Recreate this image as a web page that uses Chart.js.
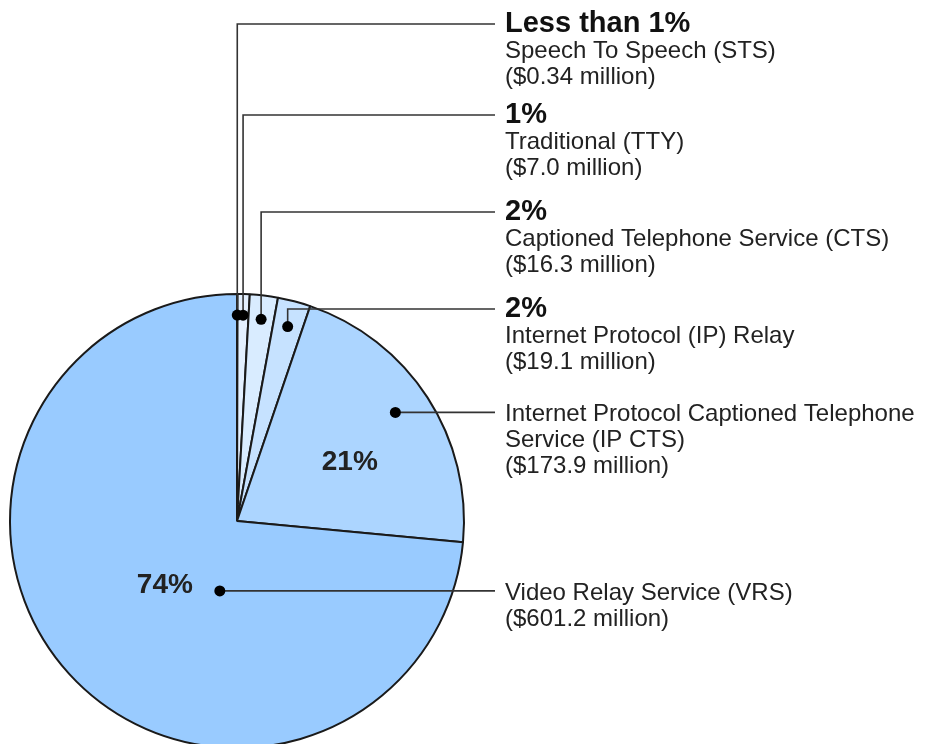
<!DOCTYPE html>
<html>
<head>
<meta charset="utf-8">
<script src="https://cdn.jsdelivr.net/npm/chart.js@4.4.1/dist/chart.umd.min.js"></script>
<style>
  html, body { margin: 0; padding: 0; background: #fff; overflow: hidden; }
  canvas { display: block; }
</style>
</head>
<body>
<canvas id="chart" width="934" height="760"></canvas>
<script>
// data (millions of dollars)
const categories = [
  ["Speech To Speech (STS)"],
  ["Traditional (TTY)"],
  ["Captioned Telephone Service (CTS)"],
  ["Internet Protocol (IP) Relay"],
  ["Internet Protocol Captioned Telephone", "Service (IP CTS)"],
  ["Video Relay Service (VRS)"]
];
const amounts = [0.34, 7.0, 16.3, 19.1, 173.9, 601.2];
const amountLabels = ["($0.34 million)", "($7.0 million)", "($16.3 million)",
  "($19.1 million)", "($173.9 million)", "($601.2 million)"];
const shareLabels = ["Less than 1%", "1%", "2%", "2%", "21%", "74%"];

const sliceColors = ['#e3f0ff', '#e3f0ff', '#d9ecff', '#c6e2ff', '#acd5ff', '#99cbff'];

const FONT = "'Liberation Sans', Arial, sans-serif";
const TEXT_X = 505;
const LINE_END = 495;

// where dots sit inside each slice: fraction along the arc, fraction of radius
const dotPlace = [[0.5, 0.907], [0.5, 0.907], [0.5, 0.895], [0.5, 0.885], [0.48, 0.846], [0.372, 0.317]];
// small slices: leader goes up then right; the big two go straight right
const labelLineY = [24, 115, 212, 309, null, null];
// inside percent labels for the two big slices
const innerPlace = {4: [0.571, 0.56], 5: [0.5015, 0.427]};

function arcPoint(arc, frac, rf) {
  const a = arc.startAngle + (arc.endAngle - arc.startAngle) * frac;
  const r = arc.outerRadius * rf;
  return { x: arc.x + r * Math.cos(a), y: arc.y + r * Math.sin(a) };
}

const leaderPlugin = {
  id: 'leaders',
  afterDatasetsDraw(chart) {
    const ctx = chart.ctx;
    const arcs = chart.getDatasetMeta(0).data;
    ctx.save();
    arcs.forEach((arc, i) => {
      const p = arcPoint(arc, dotPlace[i][0], dotPlace[i][1]);
      const ly = labelLineY[i] !== null ? labelLineY[i] : p.y;

      ctx.strokeStyle = '#333';
      ctx.lineWidth = 1.6;
      ctx.beginPath();
      ctx.moveTo(p.x, p.y);
      if (labelLineY[i] !== null) ctx.lineTo(p.x, ly);
      ctx.lineTo(LINE_END, ly);
      ctx.stroke();

      ctx.fillStyle = '#000';
      ctx.beginPath();
      ctx.arc(p.x, p.y, 5.5, 0, Math.PI * 2);
      ctx.fill();

      // text block
      ctx.textAlign = 'left';
      ctx.textBaseline = 'alphabetic';
      const lines = categories[i].concat([amountLabels[i]]);
      let base;
      if (labelLineY[i] !== null) {
        ctx.fillStyle = '#111';
        ctx.font = 'bold 29px ' + FONT;
        ctx.fillText(shareLabels[i], TEXT_X, ly + 8);
        base = ly + 8 + 25.5;
      } else {
        base = ly + 9;
      }
      ctx.fillStyle = '#222';
      ctx.font = '24px ' + FONT;
      lines.forEach((t, k) => ctx.fillText(t, TEXT_X, base + k * 26));

      // percent inside big slices
      if (innerPlace[i]) {
        const q = arcPoint(arc, innerPlace[i][0], innerPlace[i][1]);
        ctx.fillStyle = '#222';
        ctx.font = 'bold 28px ' + FONT;
        ctx.textAlign = 'center';
        ctx.textBaseline = 'middle';
        ctx.fillText(shareLabels[i], q.x, q.y);
      }
    });
    ctx.restore();
  }
};

new Chart(document.getElementById('chart'), {
  type: 'pie',
  data: {
    labels: categories.map(c => c.join(' ')),
    datasets: [{
      data: amounts,
      backgroundColor: sliceColors,
      borderColor: '#1a1a1a',
      borderWidth: 2,
      radius: 227
    }]
  },
  options: {
    responsive: false,
    animation: false,
    layout: { padding: { left: 10, right: 470, top: 294, bottom: 12 } },
    plugins: {
      legend: { display: false },
      tooltip: { enabled: false }
    }
  },
  plugins: [leaderPlugin]
});
</script>
</body>
</html>
